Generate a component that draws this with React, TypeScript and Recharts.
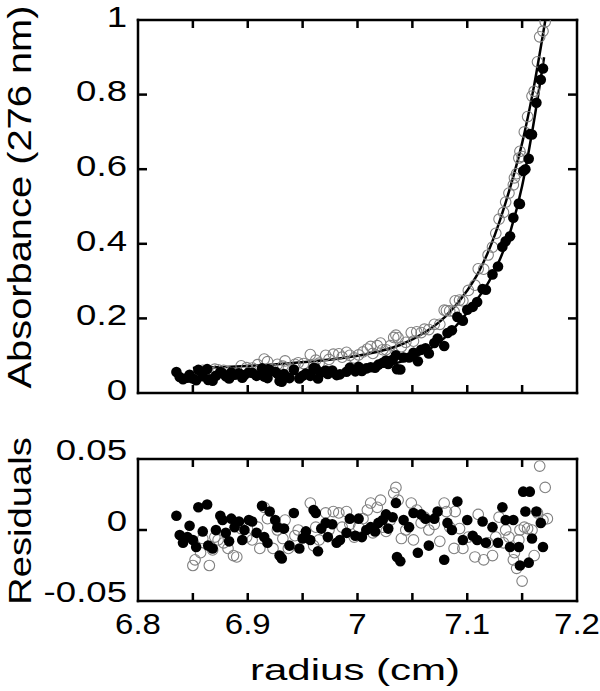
import { ComposedChart, Scatter, Line, XAxis, YAxis } from 'recharts'

const FONT = '"Liberation Sans", Arial, Helvetica, sans-serif'

// filled circles: radius (cm), absorbance, residual
const filledRadius = [
  6.835, 6.838, 6.841, 6.845, 6.847, 6.85, 6.853, 6.855, 6.859, 6.863,
  6.864, 6.868, 6.871, 6.875, 6.877, 6.88, 6.883, 6.885, 6.888, 6.892,
  6.895, 6.897, 6.901, 6.904, 6.908, 6.913, 6.915, 6.918, 6.92, 6.925,
  6.927, 6.929, 6.931, 6.933, 6.938, 6.942, 6.947, 6.95, 6.953, 6.957,
  6.96, 6.962, 6.964, 6.967, 6.971, 6.973, 6.977, 6.981, 6.984, 6.99,
  6.993, 6.998, 7.001, 7.004, 7.008, 7.012, 7.016, 7.019, 7.023, 7.026,
  7.028, 7.032, 7.035, 7.036, 7.039, 7.042, 7.047, 7.051, 7.055, 7.058,
  7.062, 7.065, 7.07, 7.073, 7.079, 7.082, 7.086, 7.091, 7.096, 7.1,
  7.105, 7.109, 7.114, 7.117, 7.123, 7.128, 7.132, 7.135, 7.139, 7.142,
  7.147, 7.148, 7.151, 7.153, 7.156, 7.157, 7.159, 7.163, 7.167, 7.169,
]
const filledAbsorbance = [
  0.056, 0.043, 0.037, 0.041, 0.049, 0.039, 0.034, 0.062, 0.045, 0.064,
  0.035, 0.033, 0.046, 0.056, 0.053, 0.045, 0.039, 0.055, 0.049, 0.053,
  0.041, 0.048, 0.055, 0.054, 0.046, 0.066, 0.044, 0.04, 0.062, 0.057,
  0.052, 0.032, 0.03, 0.051, 0.04, 0.063, 0.039, 0.046, 0.052, 0.046,
  0.067, 0.066, 0.039, 0.055, 0.06, 0.051, 0.06, 0.048, 0.05, 0.057,
  0.068, 0.058, 0.07, 0.059, 0.066, 0.069, 0.068, 0.076, 0.081, 0.087,
  0.078, 0.089, 0.101, 0.064, 0.063, 0.095, 0.095, 0.108, 0.085, 0.116,
  0.12, 0.106, 0.134, 0.146, 0.126, 0.161, 0.168, 0.204, 0.194, 0.223,
  0.231, 0.244, 0.279, 0.277, 0.318, 0.339, 0.392, 0.407, 0.42, 0.47,
  0.508, 0.507, 0.595, 0.6, 0.628, 0.694, 0.693, 0.778, 0.84, 0.87,
]
const filledResidual = [
  0.01, -0.0035, -0.009, -0.005, 0.003, -0.007, -0.012, 0.016, -0.001, 0.018,
  -0.011, -0.013, 0.0, 0.01, 0.007, -0.002, -0.008, 0.008, 0.002, 0.006,
  -0.007, 0.0, 0.007, 0.006, -0.002, 0.017, -0.005, -0.009, 0.013, 0.007,
  0.002, -0.018, -0.02, 0.001, -0.011, 0.012, -0.013, -0.006, -0.001, -0.007,
  0.014, 0.012, -0.015, 0.001, 0.005, -0.005, 0.004, -0.009, -0.007, -0.002,
  0.008, -0.004, 0.008, -0.005, 0.0, 0.002, -0.001, 0.005, 0.007, 0.011,
  0.001, 0.009, 0.019, -0.019, -0.022, 0.007, 0.002, 0.012, -0.016, 0.011,
  0.008, -0.011, 0.008, 0.013, -0.021, 0.005, 0.0, 0.02, -0.007, 0.007,
  -0.004, -0.007, 0.006, -0.009, 0.002, -0.009, 0.016, 0.007, -0.012, 0.007,
  -0.012, -0.025, 0.027, 0.013, -0.023, 0.027, -0.006, 0.013, 0.005, -0.012,
]

// open circles: radius (cm), absorbance (last point is off the top), residual
const openRadius = [
  6.85, 6.852, 6.857, 6.859, 6.865, 6.868, 6.87, 6.873, 6.878, 6.882,
  6.887, 6.89, 6.894, 6.899, 6.904, 6.909, 6.911, 6.915, 6.918, 6.923,
  6.927, 6.932, 6.934, 6.937, 6.943, 6.946, 6.951, 6.957, 6.96, 6.962,
  6.965, 6.971, 6.974, 6.978, 6.983, 6.986, 6.99, 6.993, 6.997, 7.001,
  7.005, 7.009, 7.012, 7.014, 7.018, 7.021, 7.023, 7.026, 7.03, 7.033,
  7.035, 7.037, 7.04, 7.044, 7.049, 7.051, 7.054, 7.058, 7.061, 7.065,
  7.07, 7.075, 7.079, 7.081, 7.084, 7.088, 7.089, 7.093, 7.096, 7.101,
  7.107, 7.11, 7.115, 7.119, 7.123, 7.126, 7.129, 7.133, 7.135, 7.138,
  7.142, 7.143, 7.145, 7.147, 7.148, 7.15, 7.152, 7.155, 7.159, 7.161,
  7.164, 7.166, 7.169, 7.171, 7.173,
]
const openAbsorbance = [
  0.042, 0.046, 0.051, 0.061, 0.043, 0.054, 0.064, 0.062, 0.061, 0.057,
  0.053, 0.052, 0.073, 0.068, 0.067, 0.076, 0.062, 0.091, 0.084, 0.064,
  0.077, 0.072, 0.086, 0.066, 0.077, 0.081, 0.079, 0.103, 0.074, 0.088,
  0.08, 0.101, 0.09, 0.104, 0.105, 0.096, 0.109, 0.101, 0.094, 0.102,
  0.11, 0.118, 0.125, 0.106, 0.127, 0.134, 0.116, 0.116, 0.127, 0.149,
  0.155, 0.148, 0.124, 0.136, 0.162, 0.139, 0.164, 0.162, 0.171, 0.17,
  0.184, 0.184, 0.222, 0.221, 0.22, 0.218, 0.247, 0.249, 0.247, 0.275,
  0.289, 0.333, 0.332, 0.37, 0.391, 0.428, 0.466, 0.484, 0.512, 0.536,
  0.558, 0.577, 0.588, 0.63, 0.648, 0.634, 0.7, 0.741, 0.796, 0.809,
  0.888, 0.955, 0.97, 0.995,
]
const openResidual = [
  -0.025, -0.021, -0.016, -0.006, -0.025, -0.014, -0.005, -0.007, -0.009, -0.013,
  -0.018, -0.019, 0.001, -0.005, -0.007, 0.002, -0.013, 0.016, 0.008, -0.013,
  0.0, -0.006, 0.007, -0.013, -0.004, 0.0, -0.004, 0.019, -0.011, 0.002,
  -0.007, 0.012, 0.0, 0.013, 0.012, 0.002, 0.013, 0.004, -0.005, 0.002,
  0.008, 0.014, 0.019, -0.002, 0.016, 0.021, 0.002, -0.001, 0.007, 0.026,
  0.03, 0.021, -0.006, 0.0, 0.019, -0.007, 0.014, 0.005, 0.009, 0.0,
  0.004, -0.008, 0.019, 0.013, 0.002, -0.013, 0.013, 0.001, -0.013, -0.005,
  -0.019, 0.011, -0.021, -0.009, -0.018, -0.005, 0.009, -0.009, 0.0, -0.005,
  -0.021, -0.016, -0.027, -0.007, 0.0, -0.036, 0.002, 0.001, 0.0, -0.018,
  0.012, 0.045, 0.007, 0.03, 0.008,
]

// fitted curves
const fitOpenRadius = [6.85, 6.88, 6.92, 6.96, 7.0, 7.02, 7.04, 7.06, 7.08, 7.1, 7.11, 7.12, 7.13, 7.14, 7.15, 7.16, 7.171]
const fitOpenAbsorbance = [0.067, 0.07, 0.076, 0.085, 0.1, 0.112, 0.13, 0.16, 0.205, 0.275, 0.322, 0.385, 0.465, 0.56, 0.67, 0.81, 0.997]
const fitFilledRadius = [6.835, 6.9, 6.94, 6.98, 7.0, 7.02, 7.04, 7.06, 7.08, 7.1, 7.11, 7.12, 7.13, 7.14, 7.15, 7.16, 7.17]
const fitFilledAbsorbance = [0.046, 0.048, 0.051, 0.056, 0.062, 0.069, 0.084, 0.108, 0.15, 0.216, 0.255, 0.3, 0.36, 0.44, 0.555, 0.715, 0.9]

const radiusTicks = [6.8, 6.85, 6.9, 6.95, 7, 7.05, 7.1, 7.15, 7.2]
const radiusLabels = ['6.8', '6.9', '7', '7.1', '7.2']
const absorbanceTicks = [0, 0.2, 0.4, 0.6, 0.8, 1]
const residualTicks = [-0.05, 0, 0.05]

const toPoints = (r: number[], v: number[]) => v.map((a, i) => ({ r: r[i], a }))

const openTop = toPoints(openRadius, openAbsorbance)
const filledTop = toPoints(filledRadius, filledAbsorbance)
const openBottom = toPoints(openRadius, openResidual)
const filledBottom = toPoints(filledRadius, filledResidual)
const fitOpen = toPoints(fitOpenRadius, fitOpenAbsorbance)
const fitFilled = toPoints(fitFilledRadius, fitFilledAbsorbance)

// page layout of the two plot boxes
const W = 600
const LEFT = 138
const RIGHT = 577
const TOP_CHART = { top: 0, height: 420, y0: 20, y1: 393 }
const BOT_CHART = { top: 420, height: 271, y0: 459, y1: 601 }

const axisLine = { stroke: '#000', strokeWidth: 2.5, strokeLinecap: 'square' as const }

const OpenDot = (p: any) => (
  <circle cx={p.cx} cy={p.cy} r={5.3} fill="none" stroke="#808080" strokeWidth={1.1} />
)
const FilledDot = (p: any) => <circle cx={p.cx} cy={p.cy} r={5.3} fill="#000" />

function XLabel(props: any) {
  const { x, y, payload } = props
  const s = String(payload.value)
  if (!radiusLabels.includes(s)) return null
  return (
    <g transform={`translate(${x},${y}) scale(1.1,1)`}>
      <text x={0} y={0} dy={33} textAnchor="middle" fontSize={30} fontFamily={FONT} fill="#000">
        {s}
      </text>
    </g>
  )
}

function YLabel(props: any) {
  const { x, y, payload, lift } = props
  return (
    <g transform={`translate(${x - 11},${y}) scale(1.22,1)`}>
      <text x={0} y={0} dy={10.7 - lift} textAnchor="end" fontSize={30} fontFamily={FONT} fill="#000">
        {String(payload.value)}
      </text>
    </g>
  )
}

const topYLabel = <YLabel lift={4} />
const bottomYLabel = <YLabel lift={10} />
const xLabel = <XLabel />

// inward tick marks on all four sides of a plot box
function TickMarks({ box, yTicks, yDomain }: { box: typeof TOP_CHART; yTicks: number[]; yDomain: [number, number] }) {
  const [lo, hi] = yDomain
  const px = (r: number) => LEFT + ((r - 6.8) / 0.4) * (RIGHT - LEFT)
  const py = (v: number) => box.y1 - ((v - lo) / (hi - lo)) * (box.y1 - box.y0)
  return (
    <g fill="#000">
      {radiusTicks.slice(1, -1).map((r) => (
        <g key={`x${r}`}>
          <rect x={px(r) - 1.25} y={box.y1 - 8} width={2.5} height={8} />
          <rect x={px(r) - 1.25} y={box.y0} width={2.5} height={8} />
        </g>
      ))}
      {yTicks.slice(1, -1).map((v) => (
        <g key={`y${v}`}>
          <rect x={LEFT} y={py(v) - 1.25} width={9} height={2.5} />
          <rect x={RIGHT - 9} y={py(v) - 1.25} width={9} height={2.5} />
        </g>
      ))}
    </g>
  )
}

export default function App() {
  return (
    <div style={{ position: 'absolute', left: 0, top: 0, width: W, height: 691, background: '#fff' }}>
      <div style={{ position: 'absolute', left: 0, top: TOP_CHART.top }}>
        <ComposedChart width={W} height={TOP_CHART.height} margin={{ top: TOP_CHART.y0 - 1, right: W - RIGHT - 1, bottom: 0, left: 0 }}>
          <XAxis xAxisId="b" dataKey="r" type="number" domain={[6.8, 7.2]} allowDataOverflow ticks={radiusTicks} interval={0}
            height={TOP_CHART.height - TOP_CHART.y1} tickSize={0} tickMargin={0} axisLine={axisLine} tickLine={false} tick={false} />
          <XAxis xAxisId="t" orientation="top" type="number" domain={[6.8, 7.2]} allowDataOverflow ticks={radiusTicks} interval={0}
            height={1} tickSize={0} axisLine={axisLine} tickLine={false} tick={false} />
          <YAxis yAxisId="l" type="number" domain={[0, 1]} allowDataOverflow ticks={absorbanceTicks} interval={0}
            width={LEFT} tickSize={0} tickMargin={0} axisLine={axisLine} tickLine={false} tick={topYLabel} />
          <YAxis yAxisId="r" orientation="right" type="number" domain={[0, 1]} allowDataOverflow ticks={absorbanceTicks} interval={0}
            width={1} tickSize={0} axisLine={axisLine} tickLine={false} tick={false} />
          <Scatter xAxisId="b" yAxisId="l" data={openTop} dataKey="a" shape={OpenDot} isAnimationActive={false} />
          <Scatter xAxisId="b" yAxisId="l" data={filledTop} dataKey="a" shape={FilledDot} isAnimationActive={false} />
          <Line xAxisId="b" yAxisId="l" data={fitOpen} dataKey="a" type="monotone" stroke="#000" strokeWidth={2.5} dot={false} isAnimationActive={false} />
          <Line xAxisId="b" yAxisId="l" data={fitFilled} dataKey="a" type="monotone" stroke="#000" strokeWidth={2.5} dot={false} isAnimationActive={false} />
        </ComposedChart>
      </div>
      <div style={{ position: 'absolute', left: 0, top: BOT_CHART.top }}>
        <ComposedChart width={W} height={BOT_CHART.height} margin={{ top: BOT_CHART.y0 - BOT_CHART.top - 1, right: W - RIGHT - 1, bottom: 0, left: 0 }}>
          <XAxis xAxisId="b" dataKey="r" type="number" domain={[6.8, 7.2]} allowDataOverflow ticks={radiusTicks} interval={0}
            height={BOT_CHART.top + BOT_CHART.height - BOT_CHART.y1} tickSize={0} tickMargin={0} axisLine={axisLine} tickLine={false} tick={xLabel} />
          <XAxis xAxisId="t" orientation="top" type="number" domain={[6.8, 7.2]} allowDataOverflow ticks={radiusTicks} interval={0}
            height={1} tickSize={0} axisLine={axisLine} tickLine={false} tick={false} />
          <YAxis yAxisId="l" type="number" domain={[-0.05, 0.05]} allowDataOverflow ticks={residualTicks} interval={0}
            width={LEFT} tickSize={0} tickMargin={0} axisLine={axisLine} tickLine={false} tick={bottomYLabel} />
          <YAxis yAxisId="r" orientation="right" type="number" domain={[-0.05, 0.05]} allowDataOverflow ticks={residualTicks} interval={0}
            width={1} tickSize={0} axisLine={axisLine} tickLine={false} tick={false} />
          <Scatter xAxisId="b" yAxisId="l" data={openBottom} dataKey="a" shape={OpenDot} isAnimationActive={false} />
          <Scatter xAxisId="b" yAxisId="l" data={filledBottom} dataKey="a" shape={FilledDot} isAnimationActive={false} />
        </ComposedChart>
      </div>
      <svg width={W} height={691} style={{ position: 'absolute', left: 0, top: 0, pointerEvents: 'none' }}>
        <TickMarks box={TOP_CHART} yTicks={absorbanceTicks} yDomain={[0, 1]} />
        <TickMarks box={BOT_CHART} yTicks={residualTicks} yDomain={[-0.05, 0.05]} />
        <text transform="translate(31,197) rotate(-90)" textAnchor="middle" fontSize={34} fontFamily={FONT} textLength={383} lengthAdjust="spacingAndGlyphs">
          Absorbance (276 nm)
        </text>
        <text transform="translate(31,521) rotate(-90)" textAnchor="middle" fontSize={32} fontFamily={FONT} textLength={168} lengthAdjust="spacingAndGlyphs">
          Residuals
        </text>
        <text x={355} y={680} textAnchor="middle" fontSize={29} fontFamily={FONT} textLength={210} lengthAdjust="spacingAndGlyphs">
          radius (cm)
        </text>
      </svg>
    </div>
  )
}
